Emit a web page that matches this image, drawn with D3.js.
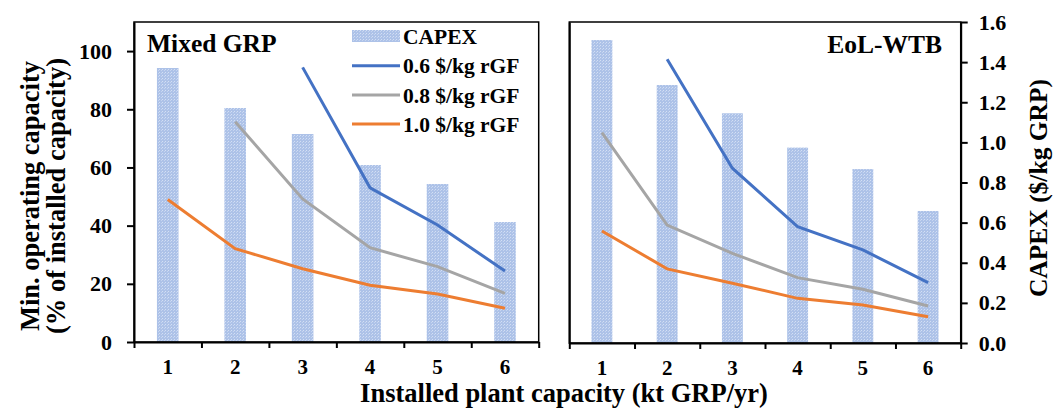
<!DOCTYPE html>
<html>
<head>
<meta charset="utf-8">
<script src="https://cdn.jsdelivr.net/npm/d3@7"></script>
<style>
body { margin: 0; background: #ffffff; }
text { font-family: "Liberation Serif", "Times New Roman", serif; font-weight: bold; fill: #000; }
</style>
</head>
<body>
<div id="container"></div>
<script>
const w = 1057,
    h = 416;

// data
var categories = ["1", "2", "3", "4", "5", "6"];
var capexMixed = [1.37, 1.17, 1.04, 0.885, 0.79, 0.60];
var capexEol = [1.51, 1.286, 1.145, 0.974, 0.867, 0.658];
var mixed06 = [null, null, 94.4, 53.0, 40.2, 24.4];
var mixed08 = [null, 75.7, 49.2, 32.4, 25.9, 16.7];
var mixed10 = [49.0, 32.1, 25.2, 19.5, 16.5, 11.6];
var eol06 = [null, 97.2, 59.9, 39.9, 31.9, 20.7];
var eol08 = [72.1, 40.4, 30.7, 22.4, 18.4, 12.7];
var eol10 = [38.4, 25.4, 20.5, 15.3, 13.0, 9.0];
var seriesNames = ["0.6 $/kg rGF", "0.8 $/kg rGF", "1.0 $/kg rGF"];
var seriesColors = ["#4472C4", "#A5A5A5", "#ED7D31"];
var pctTicks = [0, 20, 40, 60, 80, 100];
var capexTicks = [0, 0.2, 0.4, 0.6, 0.8, 1.0, 1.2, 1.4, 1.6];

var svg = d3.select("div#container")
    .append("svg")
    .attr("width", w)
    .attr("height", h);

// dotted fill like the excel pattern
var pat = svg.append("defs").append("pattern")
    .attr("id", "dots")
    .attr("width", 3)
    .attr("height", 3)
    .attr("patternUnits", "userSpaceOnUse");
pat.append("rect").attr("width", 3).attr("height", 3).style("fill", "#adc2e8");
pat.append("rect").attr("x", 0).attr("y", 0).attr("width", 1).attr("height", 1).style("fill", "#d3dff4");
pat.append("rect").attr("x", 2).attr("y", 1).attr("width", 1).attr("height", 1).style("fill", "#c6d5f0");

function drawPanel(p) {
    var x = d3.scaleBand().domain(categories).range([p.left, p.right]);
    var edges = d3.scaleLinear().domain([0, categories.length]).range([p.left, p.right]);
    var yPct = d3.scaleLinear().domain([0, 110]).range([p.bottom, p.top]);
    var yCap = d3.scaleLinear().domain([0, 1.6]).range([p.bottom, p.top]);
    var barW = x.bandwidth() * 0.32;

    var g = svg.append("g");

    g.selectAll(".bar")
        .data(p.capex)
        .enter()
        .append("rect")
        .attr("class", "bar")
        .attr("x", (d, i) => x(categories[i]) + (x.bandwidth() - barW) / 2)
        .attr("y", d => yCap(d))
        .attr("width", barW)
        .attr("height", d => yCap(0) - yCap(d))
        .style("fill", "url(#dots)");

    var line = d3.line()
        .defined(d => d != null)
        .x((d, i) => x(categories[i]) + x.bandwidth() / 2)
        .y(d => yPct(d));

    p.lines.forEach(function (s, k) {
        g.append("path")
            .datum(s)
            .attr("fill", "none")
            .attr("stroke", seriesColors[k])
            .attr("stroke-width", 3)
            .attr("d", line);
    });

    // frame
    g.append("rect")
        .attr("x", p.left)
        .attr("y", p.top)
        .attr("width", p.right - p.left)
        .attr("height", p.bottom - p.top)
        .style("fill", "none")
        .style("stroke", "#000")
        .style("stroke-width", 1.5);

    // bottom tick marks at band edges
    var xt = g.append("g")
        .attr("transform", "translate(0," + p.bottom + ")")
        .call(d3.axisBottom(edges).ticks(categories.length).tickSize(6).tickSizeOuter(0).tickFormat(""));
    xt.selectAll("line, path").style("stroke", "#000").style("stroke-width", 2);

    var xl = g.append("g")
        .attr("transform", "translate(0," + p.bottom + ")")
        .call(d3.axisBottom(x).tickSize(0).tickPadding(17));
    xl.select(".domain").remove();
    xl.selectAll("text").style("font-size", "21px");

    if (p.leftAxis) {
        var ya = g.append("g")
            .attr("transform", "translate(" + p.left + ",0)")
            .call(d3.axisLeft(yPct).tickValues(pctTicks).tickSize(7).tickSizeOuter(0).tickPadding(15));
        ya.selectAll("line, path").style("stroke", "#000").style("stroke-width", 2);
        ya.selectAll("text").style("font-size", "22px");
    } else {
        g.append("g")
            .attr("transform", "translate(" + p.left + ",0)")
            .call(d3.axisLeft(yPct).tickValues([]).tickSizeOuter(0))
            .selectAll("path").style("stroke", "#000").style("stroke-width", 2);
    }

    if (p.rightAxis) {
        var yr = g.append("g")
            .attr("transform", "translate(" + p.right + ",0)")
            .call(d3.axisRight(yCap).tickValues(capexTicks).tickSize(7).tickSizeOuter(0).tickPadding(11).tickFormat(d3.format(".1f")));
        yr.selectAll("line, path").style("stroke", "#000").style("stroke-width", 2);
        yr.selectAll("text").style("font-size", "22px");
    }

    g.append("text")
        .attr("x", p.titleX)
        .attr("y", p.titleY)
        .attr("text-anchor", p.titleAnchor)
        .style("font-size", "25.5px")
        .text(p.title);
}

drawPanel({
    left: 134, right: 538.7, top: 22, bottom: 342,
    capex: capexMixed, lines: [mixed06, mixed08, mixed10],
    leftAxis: true, rightAxis: false,
    title: "Mixed GRP", titleX: 147, titleY: 52, titleAnchor: "start"
});
drawPanel({
    left: 569.3, right: 960.7, top: 22, bottom: 343,
    capex: capexEol, lines: [eol06, eol08, eol10],
    leftAxis: false, rightAxis: true,
    title: "EoL-WTB", titleX: 942, titleY: 53, titleAnchor: "end"
});

// legend
var legend = svg.append("g").attr("id", "legend");
var rowY = [36, 65.7, 95, 124];
legend.append("rect")
    .attr("x", 352)
    .attr("y", rowY[0] - 6)
    .attr("width", 48)
    .attr("height", 12)
    .style("fill", "url(#dots)");
legend.selectAll(".swatch")
    .data(seriesNames)
    .enter()
    .append("line")
    .attr("class", "swatch")
    .attr("x1", 352)
    .attr("x2", 400)
    .attr("y1", (d, i) => rowY[i + 1])
    .attr("y2", (d, i) => rowY[i + 1])
    .style("stroke", (d, i) => seriesColors[i])
    .style("stroke-width", 3);
legend.selectAll(".lab")
    .data(["CAPEX"].concat(seriesNames))
    .enter()
    .append("text")
    .attr("class", "lab")
    .attr("x", 403)
    .attr("y", (d, i) => rowY[i])
    .attr("dy", "0.35em")
    .style("font-size", "21.5px")
    .text(d => d);

// axis titles
var yTitle = ["Min. operating capacity", "(% of installed capacity)"];
svg.selectAll(".ytitle")
    .data(yTitle)
    .enter()
    .append("text")
    .attr("class", "ytitle")
    .attr("transform", (d, i) => "translate(" + (39 + i * 26) + ",196) rotate(-90)")
    .attr("text-anchor", "middle")
    .style("font-size", "26.5px")
    .text(d => d);

svg.append("text")
    .attr("transform", "translate(1047,188) rotate(-90)")
    .attr("text-anchor", "middle")
    .style("font-size", "25.5px")
    .text("CAPEX ($/kg GRP)");

svg.append("text")
    .attr("x", 564)
    .attr("y", 402)
    .attr("text-anchor", "middle")
    .style("font-size", "26.5px")
    .text("Installed plant capacity (kt GRP/yr)");
</script>
</body>
</html>
